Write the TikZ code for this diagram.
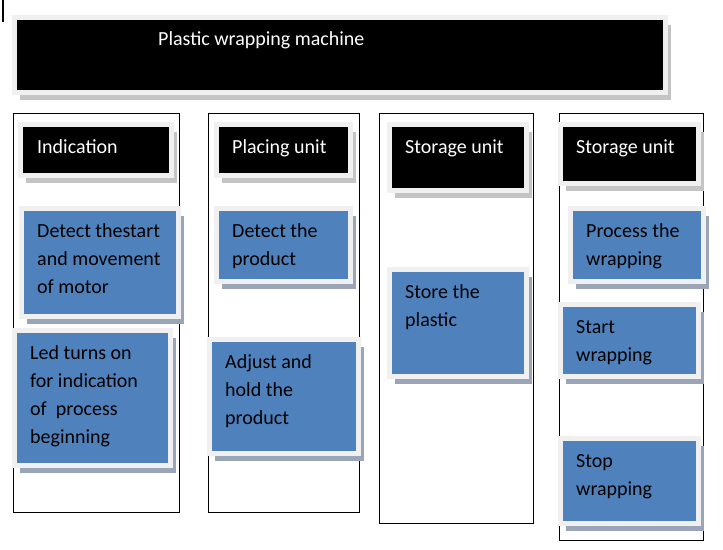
\documentclass[tikz,border=0pt]{standalone}
\usepackage{fontspec}
\setmainfont{Carlito}
\usetikzlibrary{shadows}

\definecolor{boxblue}{HTML}{4F81BD}
\definecolor{framegray}{HTML}{F0F0F0}
\definecolor{headshadow}{HTML}{C4C4C4}
\definecolor{taskshadow}{HTML}{9AA6B8}
\newcommand{\boxtext}[1]{\parbox[t]{160pt}{\raggedright #1}}

\begin{document}
\begin{tikzpicture}[x=1pt,y=-1pt,
  col/.style={draw, line width=0.9pt, anchor=north west, inner sep=0pt, outer sep=0pt},
  boxframe/.style={draw=framegray, line width=5pt, anchor=north west, inner sep=0pt, outer sep=0pt},
  header/.style={boxframe, fill=black,
    drop shadow={shadow xshift=5pt, shadow yshift=-7.5pt, fill=headshadow, opacity=1}},
  task/.style={boxframe, fill=boxblue,
    drop shadow={shadow xshift=5pt, shadow yshift=-7pt, fill=taskshadow, opacity=1}},
  txt/.style={anchor=base west, inner sep=0pt, font=\fontsize{20}{28}\selectfont},
  htxt/.style={txt, text=white}]
\useasboundingbox (0,0) rectangle (723,549);
\draw[line width=1.2pt] (3,0) -- (3,22);
% columns
\node[col, minimum width=166, minimum height=399] (c1) at (13,113) {};
\node[col, minimum width=151, minimum height=399] (c2) at (208,113) {};
\node[col, minimum width=154, minimum height=410] (c3) at (379,113) {};
\node[col, minimum width=144, minimum height=427] (c4) at (559,113) {};
% title
\node[header, minimum width=651, minimum height=75] (title) at (14.5,17.5) {};
\node[htxt] (titlet) at (158,45) {Plastic wrapping machine};
% headers
\node[header, minimum width=151, minimum height=51] (h1) at (20.5,124.5) {};
\node[header, minimum width=134, minimum height=51] (h2) at (216.5,124.5) {};
\node[header, minimum width=137, minimum height=66] (h3) at (389.5,124.5) {};
\node[header, minimum width=138, minimum height=59] (h4) at (560.5,124.5) {};
\node[htxt] (h1t) at (37,153) {Indication};
\node[htxt] (h2t) at (232,153) {Placing unit};
\node[htxt] (h3t) at (405,153) {Storage unit};
\node[htxt] (h4t) at (576,153) {Storage unit};
% tasks
\node[task, minimum width=157, minimum height=108] (t1) at (21.5,208.5) {};
\node[task, minimum width=156, minimum height=135] (t2) at (14.5,330.5) {};
\node[task, minimum width=134, minimum height=73] (t3) at (216.5,208.5) {};
\node[task, minimum width=149, minimum height=114] (t4) at (209.5,339.5) {};
\node[task, minimum width=137, minimum height=107] (t5) at (389.5,269.5) {};
\node[task, minimum width=133, minimum height=73] (t6) at (570.5,208.5) {};
\node[task, minimum width=138, minimum height=72] (t7) at (560.5,304.5) {};
\node[task, minimum width=138, minimum height=85] (t8) at (560.5,438.5) {};
\node[txt] (t1t) at (37,237) {\boxtext{Detect thestart\\and movement\\of motor}};
\node[txt] (t2t) at (30,359) {\boxtext{Led turns on\\for indication\\of\ \ process\\beginning}};
\node[txt] (t3t) at (232,237) {\boxtext{Detect the\\product}};
\node[txt] (t4t) at (225,368) {\boxtext{Adjust and\\hold the\\product}};
\node[txt] (t5t) at (405,298) {\boxtext{Store the\\plastic}};
\node[txt] (t6t) at (586,237) {\boxtext{Process the\\wrapping}};
\node[txt] (t7t) at (576,333) {\boxtext{Start\\wrapping}};
\node[txt] (t8t) at (576,467) {\boxtext{Stop\\wrapping}};
\end{tikzpicture}
\end{document}
